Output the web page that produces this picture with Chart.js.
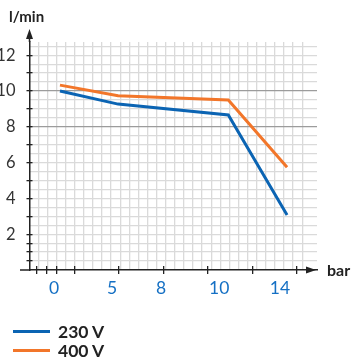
<!DOCTYPE html>
<html>
<head>
<meta charset="utf-8">
<script src="https://cdn.jsdelivr.net/npm/chart.js@4"></script>
<style>
  html, body { margin: 0; padding: 0; background: #fff; }
  #wrap { position: relative; width: 352px; height: 358px; font-family: Lato, sans-serif; }
  canvas { position: absolute; left: 0; top: 0; }
  .unit { position: absolute; font-weight: 700; color: #222; line-height: 1; }
  #legend { position: absolute; left: 13px; top: 322px; }
  .item { display: flex; align-items: center; height: 19px; font-weight: 700; font-size: 17.5px; color: #222; }
  .swatch { width: 37px; height: 3px; margin-right: 8px; }
</style>
</head>
<body>
<div id="wrap">
  <canvas id="chart" width="352" height="358"></canvas>
  <div class="unit" style="left:9px; top:9px; font-size:15px;">l/min</div>
  <div class="unit" style="left:327px; top:262px; font-size:16px;">bar</div>
  <div id="legend"></div>
</div>
<script>
// Durchfluss (l/min) über Druck (bar), zwei Spannungen
const SERIES = ['230 V', '400 V'];
const COLORS = ['#0b64b3', '#f2762a'];

const PRESSURE_230 = [0.37, 3.97, 10.8, 14.44];
const FLOW_230 = [10.0, 9.27, 8.66, 3.07];
const PRESSURE_400 = [0.37, 3.97, 10.8, 14.44];
const FLOW_400 = [10.33, 9.74, 9.5, 5.74];

// x-Beschriftung steht im Bild nicht linear, daher eigene Positionen
const X_LABELS = ['0', '5', '8', '10', '14'];
const X_LABEL_AT = [0, 3.6, 6.63, 10.24, 14];
const X_MARKS = [-1.07, -0.45, 0.17, 1.26, 4.03, 6.77, 9.52, 12.28, 15.03];

const Y_LABELS = [2, 4, 6, 8, 10, 12];
const Y_MARKS = [0.5, 1, 1.5, 2, 3, 4, 5, 6, 7, 8, 9, 10, 11, 12];
const Y_GRID = [0.5, 1, 1.5, 2, 2.5, 3, 3.5, 4, 4.5, 5, 5.5, 6, 6.5, 7, 7.5,
                8, 8.5, 9, 9.5, 10, 10.5, 11, 11.5, 12, 12.5];
const Y_DARK = [8, 10];
const GRID_COLS = 30;

const X_MIN = -1.518, X_MAX = 16.295;
const Y_MIN = 0, Y_MAX = 12.74;

const INK = '#222';
const LIGHT = '#dadada';
const DARK = '#9c9c9c';

function pts(xs, ys) {
  return xs.map((x, i) => ({ x, y: ys[i] }));
}

function setTicks(values) {
  return axis => { axis.ticks = values.map(v => ({ value: v })); };
}

function markAxis(pos, values, len, min, max) {
  const horiz = pos === 'bottom';
  return {
    type: 'linear', position: pos, weight: 0, min, max,
    afterBuildTicks: setTicks(values),
    ticks: { display: false },
    grid: { drawOnChartArea: false, drawTicks: true, tickLength: len, color: INK, lineWidth: 1.3 },
    border: { display: false },
    afterFit: s => { if (horiz) s.height = 0; else s.width = 0; },
  };
}

const arrows = {
  id: 'arrows',
  afterDraw(chart) {
    const { ctx, chartArea: a } = chart;
    ctx.save();
    ctx.strokeStyle = INK;
    ctx.fillStyle = INK;
    ctx.lineWidth = 1.5;
    ctx.beginPath();
    ctx.moveTo(a.left, a.top);
    ctx.lineTo(a.left, 36);
    ctx.moveTo(a.left, a.bottom);
    ctx.lineTo(20, a.bottom);
    ctx.stroke();
    ctx.beginPath();
    ctx.moveTo(a.left, 29);
    ctx.lineTo(a.left - 3.5, 39);
    ctx.lineTo(a.left + 3.5, 39);
    ctx.closePath();
    ctx.fill();
    ctx.beginPath();
    ctx.moveTo(a.right - 1, a.bottom);
    ctx.lineTo(a.right - 11, a.bottom - 3.5);
    ctx.lineTo(a.right - 11, a.bottom + 3.5);
    ctx.closePath();
    ctx.fill();
    ctx.restore();
  },
};

const chart = new Chart(document.getElementById('chart'), {
  type: 'line',
  data: {
    datasets: [
      { label: SERIES[0], data: pts(PRESSURE_230, FLOW_230), borderColor: COLORS[0], xAxisID: 'x', yAxisID: 'y' },
      { label: SERIES[1], data: pts(PRESSURE_400, FLOW_400), borderColor: COLORS[1], xAxisID: 'x', yAxisID: 'y' },
    ],
  },
  options: {
    responsive: false,
    animation: false,
    layout: { padding: { left: 0, top: 42, right: 35, bottom: 0 } },
    elements: {
      line: { borderWidth: 3, tension: 0, fill: false, borderCapStyle: 'butt' },
      point: { radius: 0, hoverRadius: 0 },
    },
    plugins: { legend: { display: false }, tooltip: { enabled: false } },
    scales: {
      xg: {
        type: 'linear', position: 'top', weight: 0, min: -0.967, max: 30.63,
        afterBuildTicks: axis => {
          axis.ticks = Array.from({ length: GRID_COLS }, (_, k) => ({ value: k }));
        },
        ticks: { display: false },
        grid: { color: LIGHT, lineWidth: 1.3, drawTicks: false },
        border: { display: false },
        afterFit: s => { s.height = 0; },
      },
      yg: {
        type: 'linear', position: 'right', weight: 0, min: Y_MIN, max: Y_MAX,
        afterBuildTicks: setTicks(Y_GRID),
        ticks: { display: false },
        grid: {
          color: c => Y_DARK.includes(c.tick && c.tick.value) ? DARK : LIGHT,
          lineWidth: 1.3, drawTicks: false,
        },
        border: { display: false },
        afterFit: s => { s.width = 0; },
      },
      xm1: markAxis('bottom', X_MARKS, 4, X_MIN, X_MAX),
      xm2: markAxis('bottom', X_MARKS, -4, X_MIN, X_MAX),
      ym1: markAxis('left', Y_MARKS, 3, Y_MIN, Y_MAX),
      ym2: markAxis('left', Y_MARKS, -3, Y_MIN, Y_MAX),
      x: {
        type: 'linear', position: 'bottom', weight: 1, min: X_MIN, max: X_MAX,
        afterBuildTicks: setTicks(X_LABEL_AT),
        ticks: {
          callback: (v, i) => X_LABELS[i],
          color: '#1570c4', font: { family: 'Lato', size: 17.5 }, padding: 0,
          maxRotation: 0, autoSkip: false,
        },
        grid: { display: false },
        border: { display: true, color: INK, width: 1.5 },
        afterFit: s => { s.height = 88; },
      },
      y: {
        type: 'linear', position: 'left', weight: 1, min: Y_MIN, max: Y_MAX,
        afterBuildTicks: setTicks(Y_LABELS),
        ticks: { color: '#333', font: { family: 'Lato', size: 16.5 }, padding: 6, autoSkip: false },
        grid: { display: false },
        border: { display: true, color: INK, width: 1.5 },
        afterFit: s => { s.width = 29.5; },
      },
    },
  },
  plugins: [arrows],
});

document.getElementById('legend').innerHTML = SERIES.map((s, i) => `
  <div class="item"><span class="swatch" style="background:${COLORS[i]}"></span>${s}</div>
`).join('');
</script>
</body>
</html>
